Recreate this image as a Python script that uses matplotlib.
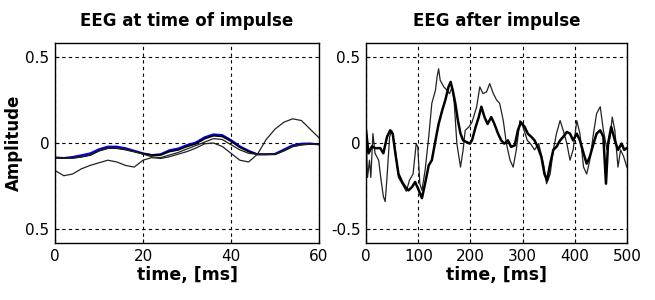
import matplotlib.pyplot as plt

# left panel: EEG at time of impulse (0..60 ms)
t_left = [0, 2, 4, 6, 8, 10, 12, 14, 16, 18, 20, 22, 24, 26, 28, 30,
          32, 34, 36, 38, 40, 42, 44, 46, 48, 50, 52, 54, 56, 58, 60]
eeg_a = [-0.085, -0.087, -0.087, -0.080, -0.070, -0.045, -0.030, -0.030, -0.038, -0.050, -0.062,
         -0.070, -0.070, -0.050, -0.040, -0.020, -0.005, 0.025, 0.042, 0.038, 0.010,
         -0.025, -0.050, -0.066, -0.066, -0.066, -0.045, -0.020, -0.010, -0.006, -0.008]
eeg_est = [-0.085, -0.087, -0.081, -0.071, -0.060, -0.036, -0.021, -0.021, -0.030, -0.045, -0.060,
           -0.070, -0.065, -0.042, -0.032, -0.012, 0.003, 0.033, 0.050, 0.046, 0.017,
           -0.019, -0.045, -0.066, -0.066, -0.063, -0.038, -0.013, -0.004, -0.003, -0.008]
eeg_b = [-0.085, -0.087, -0.087, -0.080, -0.070, -0.045, -0.030, -0.030, -0.038, -0.050, -0.065,
         -0.080, -0.085, -0.070, -0.055, -0.035, -0.015, 0.005, 0.025, 0.020, -0.010,
         -0.040, -0.060, -0.066, -0.066, -0.066, -0.045, -0.020, -0.010, -0.006, -0.008]
eeg_c = [-0.160, -0.190, -0.180, -0.150, -0.130, -0.115, -0.100, -0.110, -0.130, -0.140, -0.100,
         -0.085, -0.090, -0.080, -0.065, -0.050, -0.030, -0.005, 0.000, -0.020, -0.060,
         -0.100, -0.110, -0.066, 0.020, 0.080, 0.120, 0.140, 0.130, 0.080, 0.030]

# right panel: EEG after impulse (0..500 ms)
t_thick = [0, 4.5, 11, 17, 27, 33, 40, 46, 51, 56, 62, 69, 75, 81, 88, 94, 101, 107, 113,
           120, 126, 133, 139, 146, 152, 158, 162, 166, 171, 176, 181, 186, 192, 199, 203,
           210, 216, 221, 227, 233, 240, 246, 253, 259, 265, 272, 278, 285, 291, 297, 304,
           310, 317, 323, 329, 336, 342, 347, 353, 359, 365, 372, 378, 385, 391, 397, 404,
           410, 417, 423, 429, 436, 442, 449, 455, 460, 464, 470, 477, 483, 490, 495, 500]
eeg_thick = [0.07, -0.06, -0.02, -0.03, -0.03, -0.06, 0.035, 0.073, 0.054, -0.06, -0.18,
             -0.226, -0.255, -0.275, -0.255, -0.226, -0.275, -0.32, -0.236, -0.13, -0.10,
             0.015, 0.11, 0.19, 0.25, 0.325, 0.354, 0.306, 0.23, 0.13, 0.054, 0.015, 0.006,
             -0.004, 0.015, 0.093, 0.15, 0.21, 0.15, 0.11, 0.15, 0.11, 0.054, 0.015, -0.004,
             0.015, -0.023, -0.014, 0.073, 0.12, 0.093, 0.054, 0.035, 0.015, -0.023, -0.08,
             -0.18, -0.217, -0.12, -0.04, -0.023, 0.015, 0.035, 0.064, 0.054, 0.015, 0.054,
             0.015, -0.06, -0.12, -0.08, -0.004, 0.054, 0.073, 0.035, -0.236, -0.004, 0.093,
             0.015, -0.04, -0.004, -0.04, -0.03]
t_thin = [0, 2.6, 6.4, 9, 13, 17, 24, 28, 33, 36.5, 40, 45, 49, 56, 62, 69, 77, 83, 90, 96,
          99, 103, 107, 113, 120, 126, 133, 136, 139, 142, 149, 155, 160, 165, 169, 174, 181,
          186, 190, 197, 203, 212, 218, 224, 231, 237, 244, 250, 256, 263, 269, 276, 282, 288,
          295, 301, 309, 315, 323, 331, 340, 346, 353, 359, 365, 372, 378, 385, 391, 397, 404,
          410, 417, 423, 429, 436, 442, 449, 455, 462, 468, 472, 477, 483, 488, 494, 500]
eeg_thin = [0.035, -0.2, -0.1, -0.2, 0.054, -0.06, -0.10, -0.2, -0.31, -0.34, -0.2, 0.035,
            0.073, -0.04, -0.2, -0.236, -0.28, -0.217, -0.18, -0.004, -0.023, -0.236, -0.275,
            -0.16, 0.035, 0.23, 0.306, 0.383, 0.43, 0.364, 0.325, 0.306, 0.286, 0.325, 0.23,
            -0.004, -0.14, -0.04, 0.073, 0.093, 0.12, 0.21, 0.325, 0.286, 0.296, 0.344, 0.286,
            0.25, 0.23, 0.13, -0.004, -0.10, -0.14, -0.04, 0.13, 0.093, 0.015, -0.004, -0.04,
            -0.004, -0.12, -0.236, -0.18, -0.04, 0.054, 0.13, 0.073, -0.004, -0.10, -0.04,
            0.13, 0.054, -0.14, -0.18, -0.10, 0.054, 0.17, 0.21, 0.073, -0.04, 0.035, 0.15,
            0.073, -0.14, -0.04, -0.08, -0.14]

yticks = [-0.5, 0, 0.5]
left_ylabels = ['0.5', '0', '0.5']
right_ylabels = ['-0.5', '0', '0.5']

fig = plt.figure(figsize=(6.55, 3.0), dpi=100)
ax1 = fig.add_axes([0.084, 0.19, 0.403, 0.667])
ax2 = fig.add_axes([0.559, 0.19, 0.398, 0.667])

ax1.plot(t_left, eeg_est, color='blue', lw=1.4)
ax1.plot(t_left, eeg_a, color='black', lw=1.3)
ax1.plot(t_left, eeg_b, color='#222222', lw=0.9)
ax1.plot(t_left, eeg_c, color='#222222', lw=0.9)

ax2.plot(t_thin, eeg_thin, color='#222222', lw=0.9)
ax2.plot(t_thick, eeg_thick, color='black', lw=1.8)

for ax, xt, ylab in [(ax1, [0, 20, 40, 60], left_ylabels),
                     (ax2, [0, 100, 200, 300, 400, 500], right_ylabels)]:
    ax.set_xlim(xt[0], xt[-1])
    ax.set_ylim(-0.58, 0.58)
    ax.set_xticks(xt)
    ax.set_yticks(yticks)
    ax.set_yticklabels(ylab)
    ax.grid(True, color='black', linestyle=(0, (3, 3)), linewidth=0.8)
    ax.tick_params(direction='in', length=3, labelsize=11, pad=4)
    for s in ax.spines.values():
        s.set_linewidth(1.0)
    ax.set_xlabel('time, [ms]', fontsize=12.5, fontweight='bold', labelpad=2)

ax1.set_title('EEG at time of impulse', fontsize=12, fontweight='bold', pad=12)
ax2.set_title('EEG after impulse', fontsize=12, fontweight='bold', pad=12)
ax1.set_ylabel('Amplitude', fontsize=12, fontweight='bold', labelpad=2)

fig.savefig('out.png', dpi=100)
